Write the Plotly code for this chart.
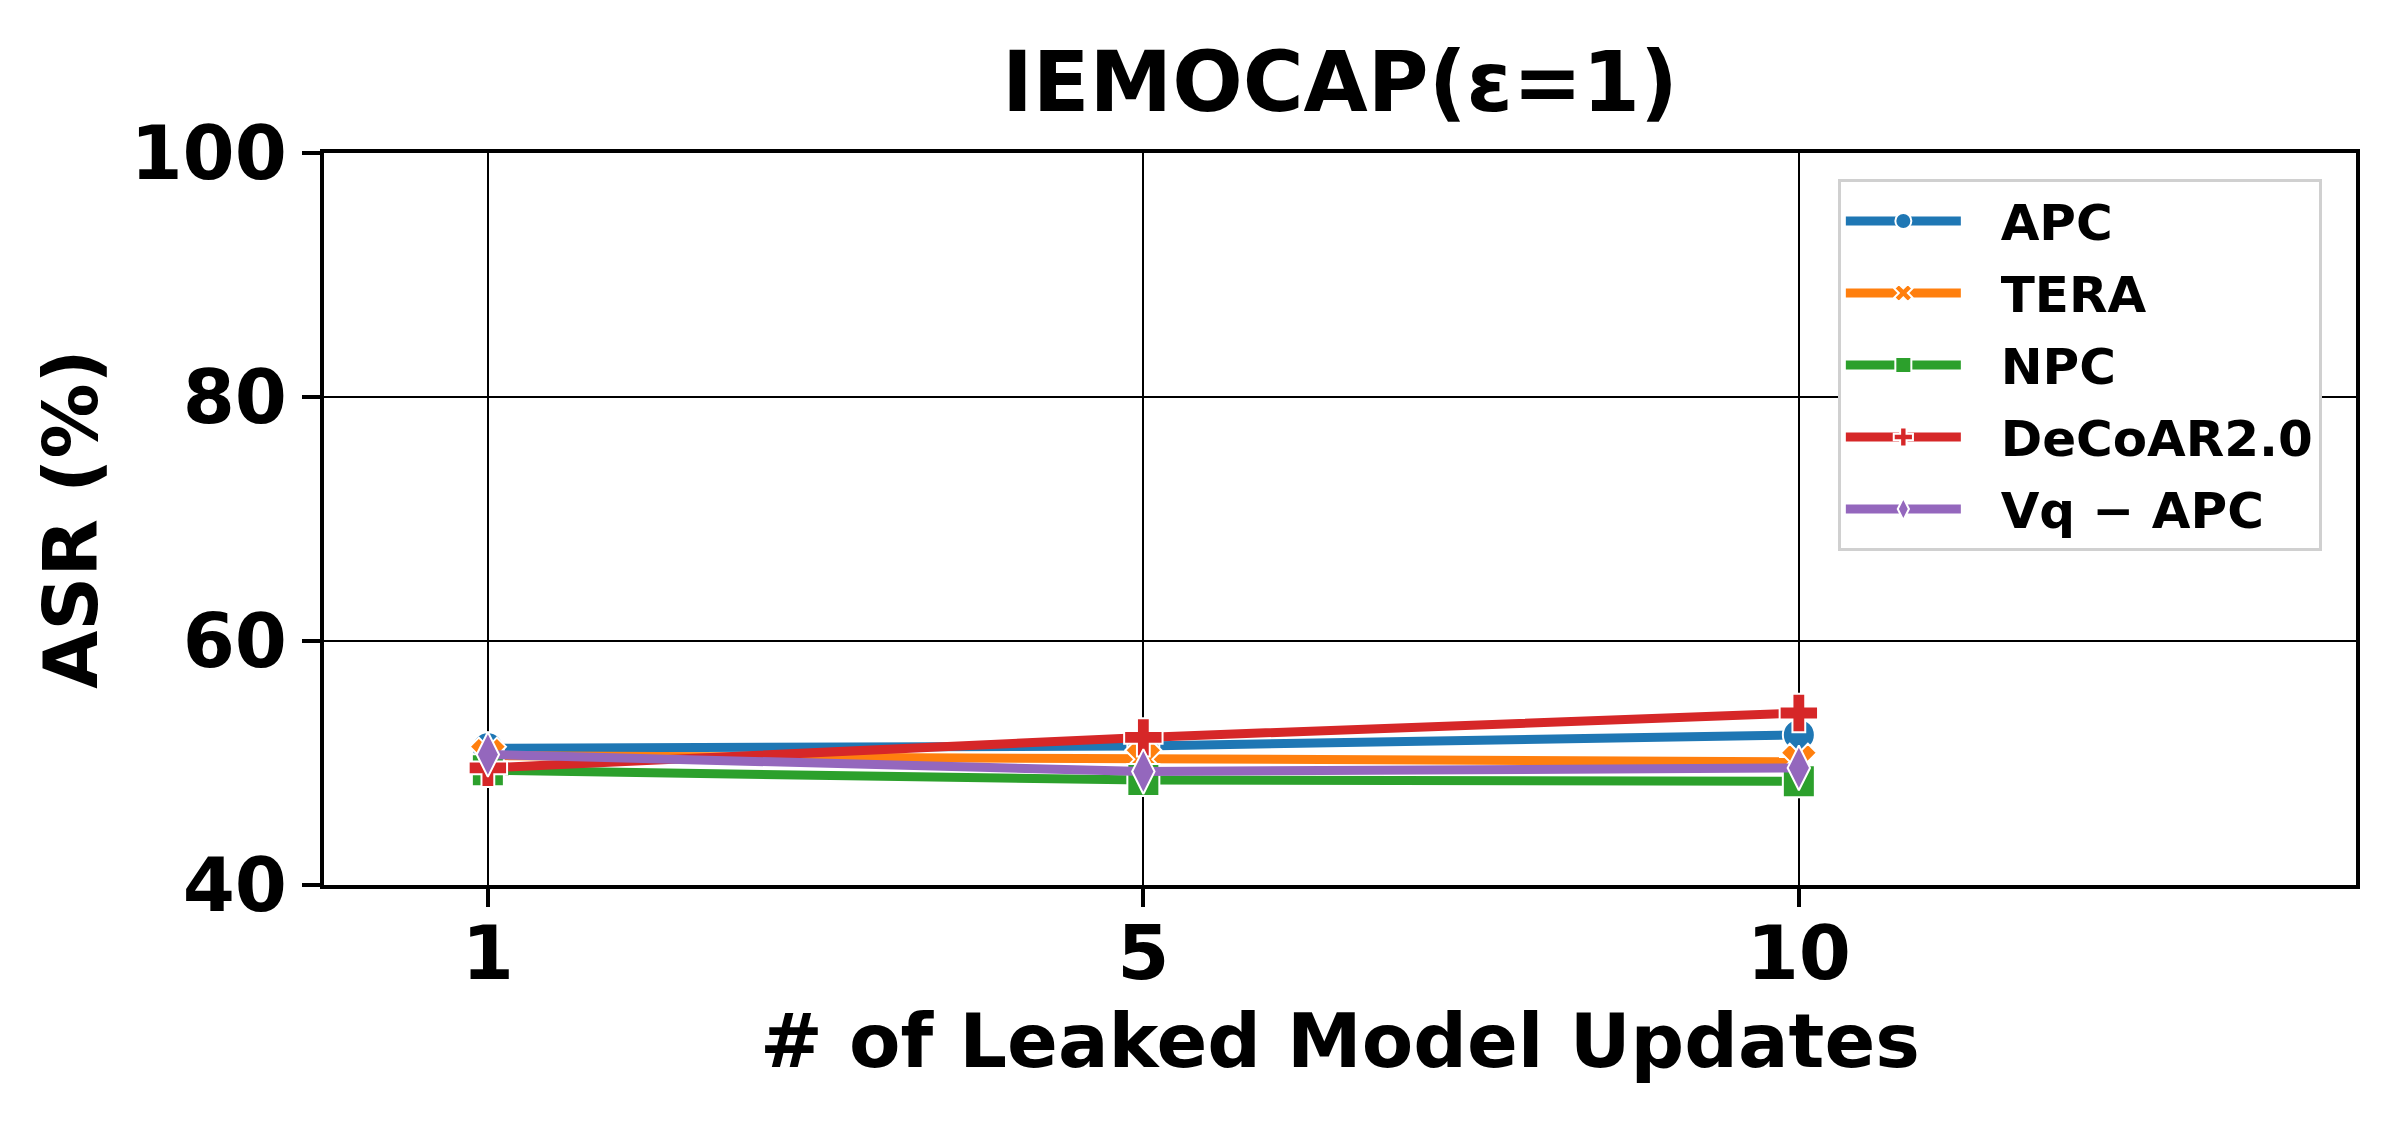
import plotly.graph_objects as go

# Daten
LEAKED_UPDATES = ["1", "5", "10"]
APC = [51.2, 51.4, 52.3]
TERA = [50.6, 50.3, 50.1]
NPC = [49.4, 48.6, 48.5]
DECOAR = [49.6, 52.1, 54.1]
VQ_APC = [50.7, 49.3, 49.6]

SERIES = [
    ("APC", APC, "#1f77b4", "circle"),
    ("TERA", TERA, "#ff7f0e", "x"),
    ("NPC", NPC, "#2ca02c", "square"),
    ("DeCoAR2.0", DECOAR, "#d62728", "cross"),
    ("Vq \u2212 APC", VQ_APC, "#9467bd", "diamond-tall"),
]

FONT = "DejaVu Sans"
# die Seite hat 8px Body-Rand -> Ränder entsprechend verschieben
OFF = 8
PAD = "\u00a0\u00a0"  # Abstand zwischen Legendensymbol und Text

fig = go.Figure()
for name, vals, color, symbol in SERIES:
    fig.add_trace(
        go.Scatter(
            x=LEAKED_UPDATES,
            y=vals,
            mode="lines+markers",
            name=PAD + name,
            legendgroup=name,
            line=dict(color=color, width=9),
            marker=dict(symbol=symbol, size=32, color=color,
                        line=dict(color="white", width=2)),
            cliponaxis=False,
        )
    )

fig.update_layout(
    width=2400,
    height=1125,
    paper_bgcolor="white",
    plot_bgcolor="white",
    margin=dict(l=324 - OFF, r=52, t=153 - OFF, b=248),
    font=dict(family=FONT, size=75, color="black", weight="bold"),
    title=dict(
        text="IEMOCAP(\u03b5=1)",
        x=0.5, xref="paper", xanchor="center",
        y=1 - (82 - OFF) / 1125, yref="container", yanchor="middle",
        font=dict(family=FONT, size=83, color="black", weight="bold"),
    ),
    legend=dict(
        x=0.745, y=0.9645, xanchor="left", yanchor="top",
        bgcolor="white", bordercolor="#d0d0d0", borderwidth=3,
        font=dict(family=FONT, size=50, color="black", weight="bold"),
        tracegroupgap=4,
        itemwidth=115,
    ),
    showlegend=True,
)

fig.update_xaxes(
    type="category",
    range=[-0.25, 2.85],
    showline=True, linecolor="black", linewidth=4, mirror=True,
    ticks="outside", ticklen=18, tickwidth=4, tickcolor="black",
    ticklabelstandoff=-18,
    showgrid=True, gridcolor="black", gridwidth=1.5,
    tickfont=dict(size=75),
    title=dict(text="# of Leaked Model Updates", font=dict(size=75), standoff=15),
    zeroline=False,
)
fig.update_yaxes(
    range=[40, 100],
    tickvals=[40, 60, 80, 100],
    showline=True, linecolor="black", linewidth=4, mirror=True,
    ticks="outside", ticklen=18, tickwidth=4, tickcolor="black",
    showgrid=True, gridcolor="black", gridwidth=1.5,
    tickfont=dict(size=75),
    title=dict(text="ASR (%)", font=dict(size=75), standoff=9),
    zeroline=False,
)

fig.write_html("out.html")
